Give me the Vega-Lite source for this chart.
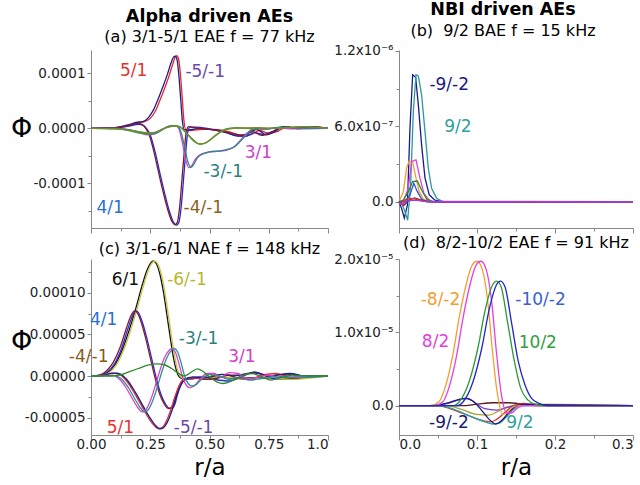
{
"$schema":"https://vega.github.io/schema/vega-lite/v6.json",
"background":"white",
"padding":{"left":10,"top":1,"right":0,"bottom":0},
"config":{
 "font":"DejaVu Sans",
 "view":{"stroke":null},
 "axis":{"labelFont":"DejaVu Sans","labelFontSize":13.5,"labelColor":"#222","domainColor":"#888","tickColor":"#888","grid":false,"titleFont":"DejaVu Sans","titleFontWeight":"normal","titleColor":"#000","labelPadding":2},
 "title":{"font":"DejaVu Sans","fontSize":17.5,"fontWeight":"bold","subtitleFont":"DejaVu Sans","subtitleFontSize":16,"subtitleColor":"#000","anchor":"middle","offset":5,"subtitlePadding":4,"color":"#000"},
 "text":{"font":"DejaVu Sans"}
},
"datasets":{
"A":[
{"s":"5/1","r":0,"phi":0},{"s":"5/1","r":0.1,"phi":0.01e-4},{"s":"5/1","r":0.16,"phi":0.05e-4},{"s":"5/1","r":0.2,"phi":0.1e-4},{"s":"5/1","r":0.225,"phi":0.12e-4},{"s":"5/1","r":0.25,"phi":0.18e-4},{"s":"5/1","r":0.27,"phi":0.3e-4},{"s":"5/1","r":0.29,"phi":0.5e-4},{"s":"5/1","r":0.31,"phi":0.72e-4},{"s":"5/1","r":0.33,"phi":0.96e-4},{"s":"5/1","r":0.345,"phi":1.17e-4},{"s":"5/1","r":0.355,"phi":1.29e-4},{"s":"5/1","r":0.362,"phi":1.32e-4},{"s":"5/1","r":0.369,"phi":1.27e-4},{"s":"5/1","r":0.377,"phi":1.0e-4},{"s":"5/1","r":0.385,"phi":0.55e-4},{"s":"5/1","r":0.392,"phi":0.15e-4},{"s":"5/1","r":0.4,"phi":-0.03e-4},{"s":"5/1","r":0.42,"phi":-0.04e-4},{"s":"5/1","r":0.47,"phi":-0.02e-4},{"s":"5/1","r":0.52,"phi":-0.02e-4},{"s":"5/1","r":0.58,"phi":-0.06e-4},{"s":"5/1","r":0.63,"phi":-0.12e-4},{"s":"5/1","r":0.67,"phi":-0.12e-4},{"s":"5/1","r":0.71,"phi":-0.04e-4},{"s":"5/1","r":0.75,"phi":-0.09e-4},{"s":"5/1","r":0.79,"phi":-0.05e-4},{"s":"5/1","r":0.83,"phi":0.03e-4},{"s":"5/1","r":0.87,"phi":-0.01e-4},{"s":"5/1","r":0.93,"phi":0.02e-4},{"s":"5/1","r":1,"phi":0},
{"s":"-5/-1","r":0,"phi":0},{"s":"-5/-1","r":0.1,"phi":0.01e-4},{"s":"-5/-1","r":0.155,"phi":0.06e-4},{"s":"-5/-1","r":0.195,"phi":0.11e-4},{"s":"-5/-1","r":0.218,"phi":0.12e-4},{"s":"-5/-1","r":0.243,"phi":0.2e-4},{"s":"-5/-1","r":0.263,"phi":0.33e-4},{"s":"-5/-1","r":0.283,"phi":0.53e-4},{"s":"-5/-1","r":0.303,"phi":0.75e-4},{"s":"-5/-1","r":0.323,"phi":0.99e-4},{"s":"-5/-1","r":0.338,"phi":1.19e-4},{"s":"-5/-1","r":0.349,"phi":1.3e-4},{"s":"-5/-1","r":0.356,"phi":1.31e-4},{"s":"-5/-1","r":0.363,"phi":1.25e-4},{"s":"-5/-1","r":0.371,"phi":0.95e-4},{"s":"-5/-1","r":0.379,"phi":0.5e-4},{"s":"-5/-1","r":0.386,"phi":0.12e-4},{"s":"-5/-1","r":0.394,"phi":-0.03e-4},{"s":"-5/-1","r":0.41,"phi":-0.03e-4},{"s":"-5/-1","r":0.46,"phi":0},{"s":"-5/-1","r":0.52,"phi":-0.03e-4},{"s":"-5/-1","r":0.57,"phi":-0.08e-4},{"s":"-5/-1","r":0.62,"phi":-0.14e-4},{"s":"-5/-1","r":0.66,"phi":-0.1e-4},{"s":"-5/-1","r":0.7,"phi":-0.02e-4},{"s":"-5/-1","r":0.74,"phi":-0.12e-4},{"s":"-5/-1","r":0.78,"phi":-0.05e-4},{"s":"-5/-1","r":0.81,"phi":0.03e-4},{"s":"-5/-1","r":0.86,"phi":0},{"s":"-5/-1","r":0.92,"phi":0.03e-4},{"s":"-5/-1","r":1,"phi":0},
{"s":"4/1","r":0,"phi":0},{"s":"4/1","r":0.1,"phi":0.01e-4},{"s":"4/1","r":0.16,"phi":0.04e-4},{"s":"4/1","r":0.2,"phi":0.07e-4},{"s":"4/1","r":0.222,"phi":0.05e-4},{"s":"4/1","r":0.237,"phi":-0.02e-4},{"s":"4/1","r":0.25,"phi":-0.12e-4},{"s":"4/1","r":0.27,"phi":-0.42e-4},{"s":"4/1","r":0.29,"phi":-0.8e-4},{"s":"4/1","r":0.31,"phi":-1.17e-4},{"s":"4/1","r":0.33,"phi":-1.5e-4},{"s":"4/1","r":0.347,"phi":-1.7e-4},{"s":"4/1","r":0.36,"phi":-1.76e-4},{"s":"4/1","r":0.37,"phi":-1.72e-4},{"s":"4/1","r":0.38,"phi":-1.45e-4},{"s":"4/1","r":0.39,"phi":-0.95e-4},{"s":"4/1","r":0.4,"phi":-0.42e-4},{"s":"4/1","r":0.408,"phi":-0.08e-4},{"s":"4/1","r":0.418,"phi":0.02e-4},{"s":"4/1","r":0.44,"phi":0.02e-4},{"s":"4/1","r":0.5,"phi":-0.01e-4},{"s":"4/1","r":0.56,"phi":-0.06e-4},{"s":"4/1","r":0.6,"phi":-0.12e-4},{"s":"4/1","r":0.65,"phi":-0.15e-4},{"s":"4/1","r":0.69,"phi":-0.08e-4},{"s":"4/1","r":0.73,"phi":-0.11e-4},{"s":"4/1","r":0.77,"phi":-0.05e-4},{"s":"4/1","r":0.82,"phi":0.02e-4},{"s":"4/1","r":0.88,"phi":0},{"s":"4/1","r":0.94,"phi":0.02e-4},{"s":"4/1","r":1,"phi":0},
{"s":"-4/-1","r":0,"phi":0},{"s":"-4/-1","r":0.1,"phi":0.01e-4},{"s":"-4/-1","r":0.155,"phi":0.05e-4},{"s":"-4/-1","r":0.195,"phi":0.09e-4},{"s":"-4/-1","r":0.215,"phi":0.07e-4},{"s":"-4/-1","r":0.231,"phi":0},{"s":"-4/-1","r":0.244,"phi":-0.1e-4},{"s":"-4/-1","r":0.264,"phi":-0.4e-4},{"s":"-4/-1","r":0.284,"phi":-0.78e-4},{"s":"-4/-1","r":0.304,"phi":-1.15e-4},{"s":"-4/-1","r":0.324,"phi":-1.48e-4},{"s":"-4/-1","r":0.341,"phi":-1.69e-4},{"s":"-4/-1","r":0.354,"phi":-1.75e-4},{"s":"-4/-1","r":0.364,"phi":-1.71e-4},{"s":"-4/-1","r":0.374,"phi":-1.43e-4},{"s":"-4/-1","r":0.384,"phi":-0.92e-4},{"s":"-4/-1","r":0.394,"phi":-0.4e-4},{"s":"-4/-1","r":0.402,"phi":-0.06e-4},{"s":"-4/-1","r":0.412,"phi":0.03e-4},{"s":"-4/-1","r":0.44,"phi":0.01e-4},{"s":"-4/-1","r":0.5,"phi":-0.02e-4},{"s":"-4/-1","r":0.55,"phi":-0.05e-4},{"s":"-4/-1","r":0.6,"phi":-0.1e-4},{"s":"-4/-1","r":0.64,"phi":-0.13e-4},{"s":"-4/-1","r":0.68,"phi":-0.06e-4},{"s":"-4/-1","r":0.72,"phi":-0.13e-4},{"s":"-4/-1","r":0.76,"phi":-0.08e-4},{"s":"-4/-1","r":0.8,"phi":0.02e-4},{"s":"-4/-1","r":0.86,"phi":0.01e-4},{"s":"-4/-1","r":0.93,"phi":0.03e-4},{"s":"-4/-1","r":1,"phi":0},
{"s":"3/1","r":0,"phi":0},{"s":"3/1","r":0.1,"phi":0},{"s":"3/1","r":0.15,"phi":-0.02e-4},{"s":"3/1","r":0.2,"phi":-0.07e-4},{"s":"3/1","r":0.24,"phi":-0.12e-4},{"s":"3/1","r":0.27,"phi":-0.1e-4},{"s":"3/1","r":0.3,"phi":-0.02e-4},{"s":"3/1","r":0.33,"phi":0.04e-4},{"s":"3/1","r":0.355,"phi":0.05e-4},{"s":"3/1","r":0.37,"phi":0},{"s":"3/1","r":0.385,"phi":-0.25e-4},{"s":"3/1","r":0.4,"phi":-0.58e-4},{"s":"3/1","r":0.413,"phi":-0.72e-4},{"s":"3/1","r":0.425,"phi":-0.68e-4},{"s":"3/1","r":0.44,"phi":-0.56e-4},{"s":"3/1","r":0.46,"phi":-0.48e-4},{"s":"3/1","r":0.49,"phi":-0.44e-4},{"s":"3/1","r":0.53,"phi":-0.42e-4},{"s":"3/1","r":0.57,"phi":-0.4e-4},{"s":"3/1","r":0.6,"phi":-0.35e-4},{"s":"3/1","r":0.63,"phi":-0.22e-4},{"s":"3/1","r":0.66,"phi":-0.08e-4},{"s":"3/1","r":0.69,"phi":0},{"s":"3/1","r":0.73,"phi":-0.02e-4},{"s":"3/1","r":0.78,"phi":0.01e-4},{"s":"3/1","r":0.85,"phi":-0.01e-4},{"s":"3/1","r":1,"phi":0},
{"s":"-3/-1","r":0,"phi":0},{"s":"-3/-1","r":0.1,"phi":0},{"s":"-3/-1","r":0.15,"phi":-0.02e-4},{"s":"-3/-1","r":0.2,"phi":-0.06e-4},{"s":"-3/-1","r":0.25,"phi":-0.11e-4},{"s":"-3/-1","r":0.28,"phi":-0.08e-4},{"s":"-3/-1","r":0.31,"phi":0},{"s":"-3/-1","r":0.34,"phi":0.05e-4},{"s":"-3/-1","r":0.363,"phi":0.04e-4},{"s":"-3/-1","r":0.378,"phi":-0.05e-4},{"s":"-3/-1","r":0.393,"phi":-0.3e-4},{"s":"-3/-1","r":0.408,"phi":-0.6e-4},{"s":"-3/-1","r":0.421,"phi":-0.71e-4},{"s":"-3/-1","r":0.433,"phi":-0.66e-4},{"s":"-3/-1","r":0.448,"phi":-0.54e-4},{"s":"-3/-1","r":0.47,"phi":-0.47e-4},{"s":"-3/-1","r":0.5,"phi":-0.43e-4},{"s":"-3/-1","r":0.54,"phi":-0.41e-4},{"s":"-3/-1","r":0.58,"phi":-0.38e-4},{"s":"-3/-1","r":0.61,"phi":-0.32e-4},{"s":"-3/-1","r":0.64,"phi":-0.19e-4},{"s":"-3/-1","r":0.67,"phi":-0.06e-4},{"s":"-3/-1","r":0.7,"phi":0.01e-4},{"s":"-3/-1","r":0.74,"phi":-0.01e-4},{"s":"-3/-1","r":0.8,"phi":0.02e-4},{"s":"-3/-1","r":0.9,"phi":0},{"s":"-3/-1","r":1,"phi":0},
{"s":"g1","r":0,"phi":0},{"s":"g1","r":0.1,"phi":-0.01e-4},{"s":"g1","r":0.16,"phi":-0.04e-4},{"s":"g1","r":0.21,"phi":-0.09e-4},{"s":"g1","r":0.25,"phi":-0.1e-4},{"s":"g1","r":0.29,"phi":-0.04e-4},{"s":"g1","r":0.33,"phi":0.03e-4},{"s":"g1","r":0.36,"phi":0.05e-4},{"s":"g1","r":0.385,"phi":0},{"s":"g1","r":0.41,"phi":-0.12e-4},{"s":"g1","r":0.435,"phi":-0.24e-4},{"s":"g1","r":0.46,"phi":-0.29e-4},{"s":"g1","r":0.485,"phi":-0.26e-4},{"s":"g1","r":0.51,"phi":-0.18e-4},{"s":"g1","r":0.54,"phi":-0.08e-4},{"s":"g1","r":0.57,"phi":-0.01e-4},{"s":"g1","r":0.62,"phi":0.01e-4},{"s":"g1","r":0.7,"phi":-0.01e-4},{"s":"g1","r":0.8,"phi":0.01e-4},{"s":"g1","r":0.88,"phi":0.03e-4},{"s":"g1","r":0.94,"phi":0.02e-4},{"s":"g1","r":1,"phi":0},
{"s":"g2","r":0,"phi":0},{"s":"g2","r":0.12,"phi":-0.01e-4},{"s":"g2","r":0.2,"phi":-0.06e-4},{"s":"g2","r":0.26,"phi":-0.08e-4},{"s":"g2","r":0.31,"phi":0},{"s":"g2","r":0.35,"phi":0.04e-4},{"s":"g2","r":0.375,"phi":0.02e-4},{"s":"g2","r":0.4,"phi":-0.08e-4},{"s":"g2","r":0.43,"phi":-0.2e-4},{"s":"g2","r":0.455,"phi":-0.28e-4},{"s":"g2","r":0.475,"phi":-0.28e-4},{"s":"g2","r":0.5,"phi":-0.22e-4},{"s":"g2","r":0.53,"phi":-0.12e-4},{"s":"g2","r":0.56,"phi":-0.04e-4},{"s":"g2","r":0.6,"phi":0},{"s":"g2","r":0.7,"phi":0.01e-4},{"s":"g2","r":0.8,"phi":0},{"s":"g2","r":0.9,"phi":0.03e-4},{"s":"g2","r":1,"phi":0}
],
"B":[
{"s":"-9/-2","r":0,"phi":0},{"s":"-9/-2","r":0.0034,"phi":-0.55e-7},{"s":"-9/-2","r":0.0068,"phi":-1.3e-7},{"s":"-9/-2","r":0.0107,"phi":-0.3e-7},{"s":"-9/-2","r":0.0141,"phi":5.9e-7},{"s":"-9/-2","r":0.0175,"phi":10.1e-7},{"s":"-9/-2","r":0.0213,"phi":9.9e-7},{"s":"-9/-2","r":0.0248,"phi":7.7e-7},{"s":"-9/-2","r":0.029,"phi":4.5e-7},{"s":"-9/-2","r":0.0333,"phi":1.9e-7},{"s":"-9/-2","r":0.0388,"phi":0.55e-7},{"s":"-9/-2","r":0.046,"phi":0.12e-7},{"s":"-9/-2","r":0.057,"phi":0},{"s":"-9/-2","r":0.3,"phi":0},
{"s":"9/2","r":0,"phi":0},{"s":"9/2","r":0.0043,"phi":-0.27e-7},{"s":"9/2","r":0.0077,"phi":-0.8e-7},{"s":"9/2","r":0.0111,"phi":-1.47e-7},{"s":"9/2","r":0.0149,"phi":1.3e-7},{"s":"9/2","r":0.0184,"phi":7.2e-7},{"s":"9/2","r":0.0218,"phi":10.1e-7},{"s":"9/2","r":0.0248,"phi":10.0e-7},{"s":"9/2","r":0.029,"phi":8.5e-7},{"s":"9/2","r":0.0333,"phi":5.6e-7},{"s":"9/2","r":0.0375,"phi":2.7e-7},{"s":"9/2","r":0.0418,"phi":1.07e-7},{"s":"9/2","r":0.0482,"phi":0.27e-7},{"s":"9/2","r":0.0568,"phi":0},{"s":"9/2","r":0.3,"phi":0},
{"s":"or","r":0,"phi":0},{"s":"or","r":0.0056,"phi":0.8e-7},{"s":"or","r":0.0098,"phi":2.7e-7},{"s":"or","r":0.0132,"phi":3.25e-7},{"s":"or","r":0.0175,"phi":3.15e-7},{"s":"or","r":0.0218,"phi":1.87e-7},{"s":"or","r":0.026,"phi":0.8e-7},{"s":"or","r":0.0311,"phi":0.21e-7},{"s":"or","r":0.0397,"phi":0},{"s":"or","r":0.3,"phi":0},
{"s":"mg","r":0,"phi":0},{"s":"mg","r":0.0055,"phi":0},{"s":"mg","r":0.0119,"phi":1.07e-7},{"s":"mg","r":0.0162,"phi":3.2e-7},{"s":"mg","r":0.0218,"phi":3.33e-7},{"s":"mg","r":0.0269,"phi":1.87e-7},{"s":"mg","r":0.032,"phi":0.67e-7},{"s":"mg","r":0.0397,"phi":0.05e-7},{"s":"mg","r":0.3,"phi":0},
{"s":"gr","r":0,"phi":0},{"s":"gr","r":0.0055,"phi":0.13e-7},{"s":"gr","r":0.0119,"phi":0.8e-7},{"s":"gr","r":0.0175,"phi":1.6e-7},{"s":"gr","r":0.0235,"phi":1.65e-7},{"s":"gr","r":0.029,"phi":0.93e-7},{"s":"gr","r":0.0354,"phi":0.21e-7},{"s":"gr","r":0.044,"phi":0},{"s":"gr","r":0.3,"phi":0},
{"s":"bl","r":0,"phi":0},{"s":"bl","r":0.0077,"phi":0},{"s":"bl","r":0.014,"phi":0.53e-7},{"s":"bl","r":0.019,"phi":1.47e-7},{"s":"bl","r":0.0235,"phi":0.8e-7},{"s":"bl","r":0.029,"phi":0.21e-7},{"s":"bl","r":0.0354,"phi":0},{"s":"bl","r":0.3,"phi":0},
{"s":"br","r":0,"phi":0},{"s":"br","r":0.006,"phi":-0.3e-7},{"s":"br","r":0.012,"phi":0.1e-7},{"s":"br","r":0.02,"phi":0.3e-7},{"s":"br","r":0.03,"phi":0.1e-7},{"s":"br","r":0.04,"phi":0},{"s":"br","r":0.3,"phi":0},
{"s":"rd","r":0,"phi":-0.1e-7},{"s":"rd","r":0.0013,"phi":-0.13e-7},{"s":"rd","r":0.0098,"phi":0.21e-7},{"s":"rd","r":0.016,"phi":0.27e-7},{"s":"rd","r":0.0226,"phi":0.19e-7},{"s":"rd","r":0.031,"phi":0.05e-7},{"s":"rd","r":0.04,"phi":0},{"s":"rd","r":0.3,"phi":0},
{"s":"vi","r":0,"phi":-0.15e-7},{"s":"vi","r":0.004,"phi":-0.2e-7},{"s":"vi","r":0.01,"phi":0.05e-7},{"s":"vi","r":0.02,"phi":0.12e-7},{"s":"vi","r":0.03,"phi":0.05e-7},{"s":"vi","r":0.04,"phi":0},{"s":"vi","r":0.3,"phi":0}
],
"C":[
{"s":"6/1","r":0,"phi":0},{"s":"6/1","r":0.04,"phi":0.05e-5},{"s":"6/1","r":0.07,"phi":0.4e-5},{"s":"6/1","r":0.1,"phi":1.3e-5},{"s":"6/1","r":0.13,"phi":3.0e-5},{"s":"6/1","r":0.16,"phi":5.4e-5},{"s":"6/1","r":0.19,"phi":8.2e-5},{"s":"6/1","r":0.215,"phi":10.8e-5},{"s":"6/1","r":0.235,"phi":12.6e-5},{"s":"6/1","r":0.25,"phi":13.5e-5},{"s":"6/1","r":0.262,"phi":13.8e-5},{"s":"6/1","r":0.275,"phi":13.5e-5},{"s":"6/1","r":0.29,"phi":12.3e-5},{"s":"6/1","r":0.305,"phi":10.2e-5},{"s":"6/1","r":0.32,"phi":7.4e-5},{"s":"6/1","r":0.335,"phi":4.5e-5},{"s":"6/1","r":0.348,"phi":2.2e-5},{"s":"6/1","r":0.36,"phi":0.7e-5},{"s":"6/1","r":0.372,"phi":-0.1e-5},{"s":"6/1","r":0.39,"phi":-0.35e-5},{"s":"6/1","r":0.42,"phi":-0.35e-5},{"s":"6/1","r":0.47,"phi":-0.2e-5},{"s":"6/1","r":0.52,"phi":-0.1e-5},{"s":"6/1","r":0.6,"phi":-0.25e-5},{"s":"6/1","r":0.7,"phi":-0.2e-5},{"s":"6/1","r":0.8,"phi":-0.35e-5},{"s":"6/1","r":0.88,"phi":-0.3e-5},{"s":"6/1","r":0.94,"phi":-0.1e-5},{"s":"6/1","r":1,"phi":0},
{"s":"-6/-1","r":0,"phi":0},{"s":"-6/-1","r":0.045,"phi":0.05e-5},{"s":"-6/-1","r":0.076,"phi":0.4e-5},{"s":"-6/-1","r":0.106,"phi":1.3e-5},{"s":"-6/-1","r":0.136,"phi":3.0e-5},{"s":"-6/-1","r":0.166,"phi":5.4e-5},{"s":"-6/-1","r":0.196,"phi":8.2e-5},{"s":"-6/-1","r":0.221,"phi":10.8e-5},{"s":"-6/-1","r":0.241,"phi":12.6e-5},{"s":"-6/-1","r":0.256,"phi":13.5e-5},{"s":"-6/-1","r":0.268,"phi":13.8e-5},{"s":"-6/-1","r":0.281,"phi":13.5e-5},{"s":"-6/-1","r":0.296,"phi":12.3e-5},{"s":"-6/-1","r":0.311,"phi":10.2e-5},{"s":"-6/-1","r":0.326,"phi":7.4e-5},{"s":"-6/-1","r":0.341,"phi":4.5e-5},{"s":"-6/-1","r":0.354,"phi":2.2e-5},{"s":"-6/-1","r":0.366,"phi":0.7e-5},{"s":"-6/-1","r":0.378,"phi":-0.1e-5},{"s":"-6/-1","r":0.396,"phi":-0.35e-5},{"s":"-6/-1","r":0.43,"phi":-0.3e-5},{"s":"-6/-1","r":0.48,"phi":-0.15e-5},{"s":"-6/-1","r":0.55,"phi":-0.1e-5},{"s":"-6/-1","r":0.65,"phi":-0.3e-5},{"s":"-6/-1","r":0.75,"phi":-0.25e-5},{"s":"-6/-1","r":0.85,"phi":-0.4e-5},{"s":"-6/-1","r":0.92,"phi":-0.25e-5},{"s":"-6/-1","r":1,"phi":0},
{"s":"4/1","r":0,"phi":0},{"s":"4/1","r":0.04,"phi":0.1e-5},{"s":"4/1","r":0.07,"phi":0.5e-5},{"s":"4/1","r":0.1,"phi":1.5e-5},{"s":"4/1","r":0.13,"phi":3.4e-5},{"s":"4/1","r":0.155,"phi":5.6e-5},{"s":"4/1","r":0.175,"phi":7.2e-5},{"s":"4/1","r":0.19,"phi":7.8e-5},{"s":"4/1","r":0.2,"phi":7.6e-5},{"s":"4/1","r":0.215,"phi":6.6e-5},{"s":"4/1","r":0.235,"phi":4.6e-5},{"s":"4/1","r":0.255,"phi":2.2e-5},{"s":"4/1","r":0.275,"phi":-0.2e-5},{"s":"4/1","r":0.295,"phi":-2.2e-5},{"s":"4/1","r":0.315,"phi":-3.4e-5},{"s":"4/1","r":0.332,"phi":-3.9e-5},{"s":"4/1","r":0.345,"phi":-3.8e-5},{"s":"4/1","r":0.355,"phi":-3.3e-5},{"s":"4/1","r":0.365,"phi":-2.2e-5},{"s":"4/1","r":0.38,"phi":-1.0e-5},{"s":"4/1","r":0.4,"phi":-0.4e-5},{"s":"4/1","r":0.43,"phi":-0.3e-5},{"s":"4/1","r":0.47,"phi":-0.1e-5},{"s":"4/1","r":0.52,"phi":-0.4e-5},{"s":"4/1","r":0.58,"phi":-0.6e-5},{"s":"4/1","r":0.63,"phi":-0.2e-5},{"s":"4/1","r":0.68,"phi":0.4e-5},{"s":"4/1","r":0.72,"phi":0.2e-5},{"s":"4/1","r":0.77,"phi":-0.3e-5},{"s":"4/1","r":0.82,"phi":0.1e-5},{"s":"4/1","r":0.86,"phi":0.2e-5},{"s":"4/1","r":0.9,"phi":-0.1e-5},{"s":"4/1","r":1,"phi":0},
{"s":"-4/-1","r":0,"phi":0},{"s":"-4/-1","r":0.035,"phi":0.1e-5},{"s":"-4/-1","r":0.065,"phi":0.6e-5},{"s":"-4/-1","r":0.095,"phi":1.7e-5},{"s":"-4/-1","r":0.125,"phi":3.6e-5},{"s":"-4/-1","r":0.15,"phi":5.8e-5},{"s":"-4/-1","r":0.17,"phi":7.3e-5},{"s":"-4/-1","r":0.184,"phi":7.8e-5},{"s":"-4/-1","r":0.195,"phi":7.6e-5},{"s":"-4/-1","r":0.21,"phi":6.6e-5},{"s":"-4/-1","r":0.23,"phi":4.6e-5},{"s":"-4/-1","r":0.25,"phi":2.2e-5},{"s":"-4/-1","r":0.27,"phi":-0.2e-5},{"s":"-4/-1","r":0.29,"phi":-2.2e-5},{"s":"-4/-1","r":0.31,"phi":-3.4e-5},{"s":"-4/-1","r":0.326,"phi":-3.9e-5},{"s":"-4/-1","r":0.339,"phi":-3.8e-5},{"s":"-4/-1","r":0.35,"phi":-3.3e-5},{"s":"-4/-1","r":0.36,"phi":-2.2e-5},{"s":"-4/-1","r":0.375,"phi":-1.0e-5},{"s":"-4/-1","r":0.395,"phi":-0.4e-5},{"s":"-4/-1","r":0.43,"phi":-0.2e-5},{"s":"-4/-1","r":0.48,"phi":-0.4e-5},{"s":"-4/-1","r":0.53,"phi":-0.3e-5},{"s":"-4/-1","r":0.58,"phi":0.1e-5},{"s":"-4/-1","r":0.64,"phi":0.1e-5},{"s":"-4/-1","r":0.69,"phi":0.5e-5},{"s":"-4/-1","r":0.74,"phi":0},{"s":"-4/-1","r":0.79,"phi":0.1e-5},{"s":"-4/-1","r":0.83,"phi":0.25e-5},{"s":"-4/-1","r":0.88,"phi":0},{"s":"-4/-1","r":1,"phi":0},
{"s":"5/1","r":0,"phi":0},{"s":"5/1","r":0.05,"phi":0.1e-5},{"s":"5/1","r":0.09,"phi":0.35e-5},{"s":"5/1","r":0.11,"phi":0.3e-5},{"s":"5/1","r":0.13,"phi":0},{"s":"5/1","r":0.15,"phi":-0.6e-5},{"s":"5/1","r":0.18,"phi":-1.9e-5},{"s":"5/1","r":0.21,"phi":-3.4e-5},{"s":"5/1","r":0.24,"phi":-4.9e-5},{"s":"5/1","r":0.265,"phi":-5.9e-5},{"s":"5/1","r":0.285,"phi":-6.3e-5},{"s":"5/1","r":0.3,"phi":-6.2e-5},{"s":"5/1","r":0.315,"phi":-5.6e-5},{"s":"5/1","r":0.335,"phi":-4.2e-5},{"s":"5/1","r":0.355,"phi":-2.4e-5},{"s":"5/1","r":0.375,"phi":-1.0e-5},{"s":"5/1","r":0.39,"phi":-0.4e-5},{"s":"5/1","r":0.42,"phi":-0.2e-5},{"s":"5/1","r":0.47,"phi":-0.3e-5},{"s":"5/1","r":0.52,"phi":0.1e-5},{"s":"5/1","r":0.57,"phi":0.2e-5},{"s":"5/1","r":0.62,"phi":-0.3e-5},{"s":"5/1","r":0.67,"phi":-0.4e-5},{"s":"5/1","r":0.72,"phi":0.1e-5},{"s":"5/1","r":0.78,"phi":0.3e-5},{"s":"5/1","r":0.83,"phi":-0.1e-5},{"s":"5/1","r":0.88,"phi":-0.2e-5},{"s":"5/1","r":0.94,"phi":0},{"s":"5/1","r":1,"phi":0},
{"s":"-5/-1","r":0,"phi":0},{"s":"-5/-1","r":0.055,"phi":0.1e-5},{"s":"-5/-1","r":0.095,"phi":0.35e-5},{"s":"-5/-1","r":0.116,"phi":0.3e-5},{"s":"-5/-1","r":0.136,"phi":0},{"s":"-5/-1","r":0.156,"phi":-0.6e-5},{"s":"-5/-1","r":0.186,"phi":-1.9e-5},{"s":"-5/-1","r":0.216,"phi":-3.4e-5},{"s":"-5/-1","r":0.246,"phi":-4.9e-5},{"s":"-5/-1","r":0.271,"phi":-5.9e-5},{"s":"-5/-1","r":0.291,"phi":-6.35e-5},{"s":"-5/-1","r":0.306,"phi":-6.2e-5},{"s":"-5/-1","r":0.321,"phi":-5.6e-5},{"s":"-5/-1","r":0.341,"phi":-4.2e-5},{"s":"-5/-1","r":0.361,"phi":-2.4e-5},{"s":"-5/-1","r":0.381,"phi":-1.0e-5},{"s":"-5/-1","r":0.396,"phi":-0.4e-5},{"s":"-5/-1","r":0.43,"phi":-0.1e-5},{"s":"-5/-1","r":0.49,"phi":-0.2e-5},{"s":"-5/-1","r":0.55,"phi":0.2e-5},{"s":"-5/-1","r":0.6,"phi":0},{"s":"-5/-1","r":0.66,"phi":0.3e-5},{"s":"-5/-1","r":0.7,"phi":0.4e-5},{"s":"-5/-1","r":0.75,"phi":0},{"s":"-5/-1","r":0.8,"phi":0.2e-5},{"s":"-5/-1","r":0.84,"phi":0.3e-5},{"s":"-5/-1","r":0.9,"phi":0},{"s":"-5/-1","r":1,"phi":0},
{"s":"3/1","r":0,"phi":0},{"s":"3/1","r":0.05,"phi":0.05e-5},{"s":"3/1","r":0.09,"phi":0.1e-5},{"s":"3/1","r":0.12,"phi":-0.4e-5},{"s":"3/1","r":0.15,"phi":-1.5e-5},{"s":"3/1","r":0.18,"phi":-3.0e-5},{"s":"3/1","r":0.2,"phi":-3.9e-5},{"s":"3/1","r":0.215,"phi":-4.3e-5},{"s":"3/1","r":0.23,"phi":-4.1e-5},{"s":"3/1","r":0.25,"phi":-3.0e-5},{"s":"3/1","r":0.27,"phi":-1.3e-5},{"s":"3/1","r":0.29,"phi":0.6e-5},{"s":"3/1","r":0.31,"phi":2.2e-5},{"s":"3/1","r":0.33,"phi":3.1e-5},{"s":"3/1","r":0.342,"phi":3.3e-5},{"s":"3/1","r":0.355,"phi":2.9e-5},{"s":"3/1","r":0.37,"phi":1.6e-5},{"s":"3/1","r":0.385,"phi":0},{"s":"3/1","r":0.4,"phi":-1.0e-5},{"s":"3/1","r":0.415,"phi":-1.4e-5},{"s":"3/1","r":0.435,"phi":-1.2e-5},{"s":"3/1","r":0.46,"phi":-0.4e-5},{"s":"3/1","r":0.49,"phi":0.3e-5},{"s":"3/1","r":0.52,"phi":0.3e-5},{"s":"3/1","r":0.55,"phi":-0.2e-5},{"s":"3/1","r":0.58,"phi":0.4e-5},{"s":"3/1","r":0.62,"phi":0.3e-5},{"s":"3/1","r":0.66,"phi":-0.3e-5},{"s":"3/1","r":0.7,"phi":-0.2e-5},{"s":"3/1","r":0.75,"phi":0.1e-5},{"s":"3/1","r":0.8,"phi":-0.2e-5},{"s":"3/1","r":0.85,"phi":-0.1e-5},{"s":"3/1","r":1,"phi":0},
{"s":"-3/-1","r":0,"phi":0},{"s":"-3/-1","r":0.06,"phi":0.05e-5},{"s":"-3/-1","r":0.1,"phi":0.05e-5},{"s":"-3/-1","r":0.13,"phi":-0.4e-5},{"s":"-3/-1","r":0.16,"phi":-1.5e-5},{"s":"-3/-1","r":0.19,"phi":-3.0e-5},{"s":"-3/-1","r":0.21,"phi":-3.9e-5},{"s":"-3/-1","r":0.225,"phi":-4.3e-5},{"s":"-3/-1","r":0.24,"phi":-4.1e-5},{"s":"-3/-1","r":0.26,"phi":-3.0e-5},{"s":"-3/-1","r":0.28,"phi":-1.3e-5},{"s":"-3/-1","r":0.3,"phi":0.6e-5},{"s":"-3/-1","r":0.32,"phi":2.2e-5},{"s":"-3/-1","r":0.34,"phi":3.1e-5},{"s":"-3/-1","r":0.352,"phi":3.3e-5},{"s":"-3/-1","r":0.365,"phi":2.9e-5},{"s":"-3/-1","r":0.38,"phi":1.6e-5},{"s":"-3/-1","r":0.395,"phi":0},{"s":"-3/-1","r":0.41,"phi":-0.9e-5},{"s":"-3/-1","r":0.425,"phi":-1.2e-5},{"s":"-3/-1","r":0.445,"phi":-1.0e-5},{"s":"-3/-1","r":0.47,"phi":-0.3e-5},{"s":"-3/-1","r":0.5,"phi":0.2e-5},{"s":"-3/-1","r":0.54,"phi":0},{"s":"-3/-1","r":0.58,"phi":-0.4e-5},{"s":"-3/-1","r":0.62,"phi":-0.2e-5},{"s":"-3/-1","r":0.67,"phi":-0.5e-5},{"s":"-3/-1","r":0.72,"phi":-0.3e-5},{"s":"-3/-1","r":0.78,"phi":-0.1e-5},{"s":"-3/-1","r":0.85,"phi":-0.2e-5},{"s":"-3/-1","r":1,"phi":0},
{"s":"g1","r":0,"phi":0},{"s":"g1","r":0.08,"phi":0},{"s":"g1","r":0.12,"phi":0.1e-5},{"s":"g1","r":0.16,"phi":0.5e-5},{"s":"g1","r":0.2,"phi":0.9e-5},{"s":"g1","r":0.24,"phi":1.3e-5},{"s":"g1","r":0.28,"phi":1.45e-5},{"s":"g1","r":0.31,"phi":1.35e-5},{"s":"g1","r":0.34,"phi":0.9e-5},{"s":"g1","r":0.37,"phi":0.3e-5},{"s":"g1","r":0.39,"phi":0},{"s":"g1","r":0.41,"phi":0.2e-5},{"s":"g1","r":0.43,"phi":0.6e-5},{"s":"g1","r":0.45,"phi":0.85e-5},{"s":"g1","r":0.47,"phi":0.6e-5},{"s":"g1","r":0.5,"phi":-0.1e-5},{"s":"g1","r":0.53,"phi":-0.7e-5},{"s":"g1","r":0.56,"phi":-0.9e-5},{"s":"g1","r":0.6,"phi":-0.5e-5},{"s":"g1","r":0.64,"phi":0.1e-5},{"s":"g1","r":0.68,"phi":0.3e-5},{"s":"g1","r":0.72,"phi":-0.1e-5},{"s":"g1","r":0.76,"phi":-0.5e-5},{"s":"g1","r":0.8,"phi":-0.2e-5},{"s":"g1","r":0.85,"phi":0.1e-5},{"s":"g1","r":0.92,"phi":0},{"s":"g1","r":1,"phi":0}
],
"D":[
{"s":"br","r":0,"phi":0},{"s":"br","r":0.08,"phi":0},{"s":"br","r":0.1,"phi":0.02e-5},{"s":"br","r":0.12,"phi":0.04e-5},{"s":"br","r":0.14,"phi":0.04e-5},{"s":"br","r":0.16,"phi":0.02e-5},{"s":"br","r":0.18,"phi":0},{"s":"br","r":0.3,"phi":0},
{"s":"ol","r":0,"phi":0},{"s":"ol","r":0.06,"phi":0},{"s":"ol","r":0.08,"phi":-0.05e-5},{"s":"ol","r":0.1,"phi":-0.12e-5},{"s":"ol","r":0.115,"phi":-0.13e-5},{"s":"ol","r":0.13,"phi":-0.06e-5},{"s":"ol","r":0.145,"phi":0},{"s":"ol","r":0.165,"phi":0.02e-5},{"s":"ol","r":0.3,"phi":0},
{"s":"rd","r":0,"phi":0},{"s":"rd","r":0.05,"phi":0},{"s":"rd","r":0.065,"phi":-0.04e-5},{"s":"rd","r":0.08,"phi":-0.1e-5},{"s":"rd","r":0.095,"phi":-0.16e-5},{"s":"rd","r":0.11,"phi":-0.21e-5},{"s":"rd","r":0.118,"phi":-0.22e-5},{"s":"rd","r":0.126,"phi":-0.18e-5},{"s":"rd","r":0.136,"phi":-0.09e-5},{"s":"rd","r":0.145,"phi":-0.01e-5},{"s":"rd","r":0.16,"phi":0.03e-5},{"s":"rd","r":0.175,"phi":0.01e-5},{"s":"rd","r":0.3,"phi":0},
{"s":"9/2","r":0,"phi":0},{"s":"9/2","r":0.05,"phi":0},{"s":"9/2","r":0.065,"phi":-0.03e-5},{"s":"9/2","r":0.08,"phi":-0.09e-5},{"s":"9/2","r":0.095,"phi":-0.16e-5},{"s":"9/2","r":0.11,"phi":-0.22e-5},{"s":"9/2","r":0.12,"phi":-0.25e-5},{"s":"9/2","r":0.128,"phi":-0.24e-5},{"s":"9/2","r":0.137,"phi":-0.16e-5},{"s":"9/2","r":0.146,"phi":-0.06e-5},{"s":"9/2","r":0.155,"phi":0.01e-5},{"s":"9/2","r":0.17,"phi":0.02e-5},{"s":"9/2","r":0.19,"phi":0},{"s":"9/2","r":0.3,"phi":0},
{"s":"pu","r":0,"phi":0},{"s":"pu","r":0.045,"phi":0},{"s":"pu","r":0.065,"phi":0.04e-5},{"s":"pu","r":0.08,"phi":0.09e-5},{"s":"pu","r":0.088,"phi":0.1e-5},{"s":"pu","r":0.1,"phi":0.02e-5},{"s":"pu","r":0.11,"phi":-0.04e-5},{"s":"pu","r":0.125,"phi":-0.06e-5},{"s":"pu","r":0.14,"phi":-0.02e-5},{"s":"pu","r":0.155,"phi":0},{"s":"pu","r":0.3,"phi":0},
{"s":"-9/-2","r":0,"phi":0},{"s":"-9/-2","r":0.04,"phi":0},{"s":"-9/-2","r":0.06,"phi":0.03e-5},{"s":"-9/-2","r":0.075,"phi":0.08e-5},{"s":"-9/-2","r":0.085,"phi":0.1e-5},{"s":"-9/-2","r":0.095,"phi":0.06e-5},{"s":"-9/-2","r":0.105,"phi":-0.05e-5},{"s":"-9/-2","r":0.115,"phi":-0.18e-5},{"s":"-9/-2","r":0.124,"phi":-0.25e-5},{"s":"-9/-2","r":0.132,"phi":-0.2e-5},{"s":"-9/-2","r":0.14,"phi":-0.1e-5},{"s":"-9/-2","r":0.148,"phi":-0.02e-5},{"s":"-9/-2","r":0.16,"phi":0.02e-5},{"s":"-9/-2","r":0.18,"phi":0.01e-5},{"s":"-9/-2","r":0.3,"phi":0},
{"s":"-8/-2","r":0,"phi":0},{"s":"-8/-2","r":0.04,"phi":0},{"s":"-8/-2","r":0.051,"phi":0.05e-5},{"s":"-8/-2","r":0.06,"phi":0.28e-5},{"s":"-8/-2","r":0.069,"phi":0.69e-5},{"s":"-8/-2","r":0.077,"phi":1.19e-5},{"s":"-8/-2","r":0.086,"phi":1.65e-5},{"s":"-8/-2","r":0.094,"phi":1.92e-5},{"s":"-8/-2","r":0.1,"phi":1.97e-5},{"s":"-8/-2","r":0.107,"phi":1.85e-5},{"s":"-8/-2","r":0.114,"phi":1.4e-5},{"s":"-8/-2","r":0.12,"phi":0.72e-5},{"s":"-8/-2","r":0.126,"phi":0.17e-5},{"s":"-8/-2","r":0.133,"phi":-0.12e-5},{"s":"-8/-2","r":0.139,"phi":-0.09e-5},{"s":"-8/-2","r":0.146,"phi":-0.02e-5},{"s":"-8/-2","r":0.155,"phi":0},{"s":"-8/-2","r":0.3,"phi":0},
{"s":"8/2","r":0,"phi":0},{"s":"8/2","r":0.045,"phi":0},{"s":"8/2","r":0.056,"phi":0.05e-5},{"s":"8/2","r":0.065,"phi":0.28e-5},{"s":"8/2","r":0.074,"phi":0.69e-5},{"s":"8/2","r":0.082,"phi":1.19e-5},{"s":"8/2","r":0.091,"phi":1.65e-5},{"s":"8/2","r":0.099,"phi":1.92e-5},{"s":"8/2","r":0.105,"phi":1.97e-5},{"s":"8/2","r":0.112,"phi":1.85e-5},{"s":"8/2","r":0.119,"phi":1.4e-5},{"s":"8/2","r":0.125,"phi":0.72e-5},{"s":"8/2","r":0.131,"phi":0.17e-5},{"s":"8/2","r":0.138,"phi":-0.1e-5},{"s":"8/2","r":0.144,"phi":-0.1e-5},{"s":"8/2","r":0.152,"phi":-0.03e-5},{"s":"8/2","r":0.16,"phi":0},{"s":"8/2","r":0.3,"phi":0},
{"s":"10/2","r":0,"phi":0},{"s":"10/2","r":0.07,"phi":0},{"s":"10/2","r":0.077,"phi":0.05e-5},{"s":"10/2","r":0.09,"phi":0.33e-5},{"s":"10/2","r":0.101,"phi":0.78e-5},{"s":"10/2","r":0.111,"phi":1.33e-5},{"s":"10/2","r":0.12,"phi":1.65e-5},{"s":"10/2","r":0.125,"phi":1.7e-5},{"s":"10/2","r":0.131,"phi":1.62e-5},{"s":"10/2","r":0.139,"phi":1.15e-5},{"s":"10/2","r":0.148,"phi":0.6e-5},{"s":"10/2","r":0.156,"phi":0.24e-5},{"s":"10/2","r":0.165,"phi":0.08e-5},{"s":"10/2","r":0.175,"phi":0.02e-5},{"s":"10/2","r":0.185,"phi":0},{"s":"10/2","r":0.3,"phi":0},
{"s":"-10/-2","r":0,"phi":0},{"s":"-10/-2","r":0.075,"phi":0},{"s":"-10/-2","r":0.082,"phi":0.05e-5},{"s":"-10/-2","r":0.095,"phi":0.33e-5},{"s":"-10/-2","r":0.106,"phi":0.78e-5},{"s":"-10/-2","r":0.116,"phi":1.33e-5},{"s":"-10/-2","r":0.125,"phi":1.65e-5},{"s":"-10/-2","r":0.13,"phi":1.7e-5},{"s":"-10/-2","r":0.136,"phi":1.62e-5},{"s":"-10/-2","r":0.144,"phi":1.15e-5},{"s":"-10/-2","r":0.153,"phi":0.6e-5},{"s":"-10/-2","r":0.161,"phi":0.3e-5},{"s":"-10/-2","r":0.17,"phi":0.1e-5},{"s":"-10/-2","r":0.18,"phi":0.03e-5},{"s":"-10/-2","r":0.19,"phi":0},{"s":"-10/-2","r":0.3,"phi":0}
],
"LA":[{"t":"5/1","r":0.18,"phi":1.05e-4},{"t":"-5/-1","r":0.482,"phi":1.02e-4},{"t":"3/1","r":0.706,"phi":-0.45e-4},{"t":"-3/-1","r":0.558,"phi":-0.79e-4},{"t":"4/1","r":0.081,"phi":-1.45e-4},{"t":"-4/-1","r":0.474,"phi":-1.45e-4}],
"LB":[{"t":"-9/-2","r":0.0644,"phi":9.29e-7},{"t":"9/2","r":0.0756,"phi":5.97e-7}],
"LC":[{"t":"6/1","r":0.145,"phi":11.52e-5},{"t":"-6/-1","r":0.405,"phi":11.52e-5},{"t":"4/1","r":0.053,"phi":6.72e-5},{"t":"-4/-1","r":-0.01,"phi":2.32e-5},{"t":"-3/-1","r":0.454,"phi":4.4e-5},{"t":"3/1","r":0.637,"phi":2.24e-5},{"t":"5/1","r":0.124,"phi":-6.28e-5},{"t":"-5/-1","r":0.433,"phi":-6.28e-5}],
"LD":[{"t":"-8/-2","r":0.0532,"phi":1.438e-5},{"t":"-10/-2","r":0.1814,"phi":1.438e-5},{"t":"8/2","r":0.0468,"phi":0.873e-5},{"t":"10/2","r":0.178,"phi":0.85e-5},{"t":"-9/-2","r":0.064,"phi":-0.232e-5},{"t":"9/2","r":0.155,"phi":-0.232e-5}]
},
"columns":2,
"bounds":"flush",
"spacing":{"row":31,"column":71},
"concat":[
{
 "width":237,"height":178,
 "title":{"text":"Alpha driven AEs","subtitle":"(a) 3/1-5/1 EAE f = 77 kHz"},
 "layer":[
  {"data":{"name":"A"},"mark":{"type":"line","strokeWidth":1.3,"interpolate":"monotone"},
   "encoding":{
    "x":{"field":"r","type":"quantitative","scale":{"domain":[0,1],"nice":false,"zero":false},"axis":{"orient":"bottom","values":[0,0.25,0.5,0.75,1],"labels":false,"tickSize":5,"title":null}},
    "y":{"field":"phi","type":"quantitative","scale":{"domain":[-1.8127e-4,1.4236e-4],"nice":false,"zero":false},"axis":{"orient":"left","values":[-0.0001,0,0.0001],"labelExpr":"replace(format(datum.value,'.4f'),'−','-')","tickSize":4,"title":"Φ","titleAngle":0,"titleFontSize":27,"titleX":-70,"titleY":78,"titleAlign":"center","titleBaseline":"middle"}},
    "color":{"field":"s","type":"nominal","scale":{"domain":["g2","g1","-3/-1","3/1","-4/-1","4/1","-5/-1","5/1"],"range":["#7a8a30","#3a9a3a","#2a8888","#e03ed0","#7a1c2c","#2626d8","#1c1c90","#e8262a"]},"legend":null}
   }},
  {"data":{"name":"A"},"mark":{"type":"line","opacity":0},
   "encoding":{
    "x":{"field":"r","type":"quantitative","scale":{"domain":[0,1],"nice":false,"zero":false},"axis":{"orient":"bottom","values":[0.125,0.375,0.625,0.875],"labels":false,"domain":false,"tickSize":3,"title":null}},
    "y":{"field":"phi","type":"quantitative","scale":{"domain":[-1.8127e-4,1.4236e-4],"nice":false,"zero":false},"axis":{"orient":"left","values":[-0.00015,-0.00005,0.00005],"labels":false,"domain":false,"tickSize":3,"title":null}},
    "detail":{"field":"s"}
   }},
  {"data":{"name":"LA"},"mark":{"type":"text","fontSize":17},
   "encoding":{
    "x":{"field":"r","type":"quantitative","scale":{"domain":[0,1],"nice":false,"zero":false},"axis":null},
    "y":{"field":"phi","type":"quantitative","scale":{"domain":[-1.8127e-4,1.4236e-4],"nice":false,"zero":false},"axis":null},
    "text":{"field":"t"},
    "color":{"field":"t","type":"nominal","scale":{"domain":["5/1","-5/-1","4/1","-4/-1","3/1","-3/-1"],"range":["#e8302e","#6a4aa8","#2a70d0","#8a6020","#d040c8","#2a8080"]},"legend":null}
   }}
 ],
 "resolve":{"axis":{"x":"independent","y":"independent"},"scale":{"color":"independent"}}
},
{
 "width":234,"height":178,
 "title":{"text":"NBI driven AEs","subtitle":"(b)\u00a0 9/2 BAE f = 15 kHz","dx":-13},
 "layer":[
  {"data":{"name":"B"},"mark":{"type":"line","strokeWidth":1.3},
   "encoding":{
    "x":{"field":"r","type":"quantitative","scale":{"domain":[0,0.3],"nice":false,"zero":false},"axis":{"orient":"bottom","values":[0,0.1,0.2,0.3],"labels":false,"tickSize":5,"title":null}},
    "y":{"field":"phi","type":"quantitative","scale":{"domain":[-2.09e-7,1.207e-6],"nice":false,"zero":false},"axis":{"orient":"left","values":[0,6e-7,1.2e-6],"labelExpr":"datum.value==0?'0.0':(datum.value>1e-6?'1.2x10⁻⁶':'6.0x10⁻⁷')","tickSize":4,"title":null}},
    "color":{"field":"s","type":"nominal","scale":{"domain":["br","rd","bl","gr","mg","or","9/2","-9/-2","vi"],"range":["#7a2a2a","#e03030","#3050e0","#2a8a2a","#e040e0","#f0a030","#2a9a9a","#1a1a90","#9a40e8"]},"legend":null}
   }},
  {"data":{"name":"B"},"mark":{"type":"line","opacity":0},
   "encoding":{
    "x":{"field":"r","type":"quantitative","scale":{"domain":[0,0.3],"nice":false,"zero":false},"axis":{"orient":"bottom","values":[0.05,0.15,0.25],"labels":false,"domain":false,"tickSize":3,"title":null}},
    "y":{"field":"phi","type":"quantitative","scale":{"domain":[-2.09e-7,1.207e-6],"nice":false,"zero":false},"axis":{"orient":"left","values":[3e-7,9e-7],"labels":false,"domain":false,"tickSize":3,"title":null}},
    "detail":{"field":"s"}
   }},
  {"data":{"name":"LB"},"mark":{"type":"text","fontSize":17},
   "encoding":{
    "x":{"field":"r","type":"quantitative","scale":{"domain":[0,0.3],"nice":false,"zero":false},"axis":null},
    "y":{"field":"phi","type":"quantitative","scale":{"domain":[-2.09e-7,1.207e-6],"nice":false,"zero":false},"axis":null},
    "text":{"field":"t"},
    "color":{"field":"t","type":"nominal","scale":{"domain":["-9/-2","9/2"],"range":["#1a1a80","#30a0a0"]},"legend":null}
   }}
 ],
 "resolve":{"axis":{"x":"independent","y":"independent"},"scale":{"color":"independent"}}
},
{
 "width":237,"height":176,
 "title":{"text":"(c) 3/1-6/1 NAE f = 148 kHz","fontWeight":"normal","fontSize":16,"offset":1},
 "layer":[
  {"data":{"name":"C"},"mark":{"type":"line","strokeWidth":1.3,"interpolate":"monotone"},
   "encoding":{
    "x":{"field":"r","type":"quantitative","scale":{"domain":[0,1],"nice":false,"zero":false},"axis":{"orient":"bottom","values":[0,0.25,0.5,0.75,1],"labelExpr":"datum.value==1?'1.0':format(datum.value,'.2f')","labelAlign":{"condition":{"test":"datum.value==1","value":"right"},"value":"center"},"labelPadding":-3,"tickSize":5,"title":"r/a","titleFontSize":23,"titlePadding":6}},
    "y":{"field":"phi","type":"quantitative","scale":{"domain":[-7.08e-5,1.404e-4],"nice":false,"zero":false},"axis":{"orient":"left","values":[-0.00005,0,0.00005,0.0001],"labelExpr":"replace(format(datum.value,'.5f'),'−','-')","tickSize":4,"title":"Φ","titleAngle":0,"titleFontSize":27,"titleX":-70,"titleY":82,"titleAlign":"center","titleBaseline":"middle"}},
    "color":{"field":"s","type":"nominal","scale":{"domain":["g1","-3/-1","3/1","-5/-1","5/1","-4/-1","4/1","-6/-1","6/1"],"range":["#2a8a2a","#2a9090","#e03ed0","#1e1e8c","#e83030","#8a1c24","#2a2ad8","#c8c440","#111111"]},"legend":null}
   }},
  {"data":{"name":"C"},"mark":{"type":"line","opacity":0},
   "encoding":{
    "x":{"field":"r","type":"quantitative","scale":{"domain":[0,1],"nice":false,"zero":false},"axis":{"orient":"bottom","values":[0.125,0.375,0.625,0.875],"labels":false,"domain":false,"tickSize":3,"title":null}},
    "y":{"field":"phi","type":"quantitative","scale":{"domain":[-7.08e-5,1.404e-4],"nice":false,"zero":false},"axis":{"orient":"left","values":[-0.000025,0.000025,0.000075,0.000125],"labels":false,"domain":false,"tickSize":3,"title":null}},
    "detail":{"field":"s"}
   }},
  {"data":{"name":"LC"},"mark":{"type":"text","fontSize":17},
   "encoding":{
    "x":{"field":"r","type":"quantitative","scale":{"domain":[0,1],"nice":false,"zero":false},"axis":null},
    "y":{"field":"phi","type":"quantitative","scale":{"domain":[-7.08e-5,1.404e-4],"nice":false,"zero":false},"axis":null},
    "text":{"field":"t"},
    "color":{"field":"t","type":"nominal","scale":{"domain":["6/1","-6/-1","4/1","-4/-1","-3/-1","3/1","5/1","-5/-1"],"range":["#111111","#b8b830","#2a70d0","#8a5a1a","#2a8080","#d040c8","#e8302e","#6a4aa8"]},"legend":null}
   }}
 ],
 "resolve":{"axis":{"x":"independent","y":"independent"},"scale":{"color":"independent"}}
},
{
 "width":234,"height":176,
 "title":{"text":"(d)\u00a0 8/2-10/2 EAE f = 91 kHz","fontWeight":"normal","fontSize":16,"offset":1},
 "layer":[
  {"data":{"name":"D"},"mark":{"type":"line","strokeWidth":1.3,"interpolate":"monotone"},
   "encoding":{
    "x":{"field":"r","type":"quantitative","scale":{"domain":[0,0.3],"nice":false,"zero":false},"axis":{"orient":"bottom","values":[0,0.1,0.2,0.3],"format":".1f","labelPadding":-3,"tickSize":5,"title":"r/a","titleFontSize":23,"titlePadding":6}},
    "y":{"field":"phi","type":"quantitative","scale":{"domain":[-4.0e-6,2.001e-5],"nice":false,"zero":false},"axis":{"orient":"left","values":[0,1e-5,2e-5],"labelExpr":"datum.value==0?'0.0':(datum.value>1.5e-5?'2.0x10⁻⁵':'1.0x10⁻⁵')","tickSize":4,"title":null}},
    "color":{"field":"s","type":"nominal","scale":{"domain":["br","ol","rd","9/2","pu","-9/-2","-8/-2","8/2","10/2","-10/-2"],"range":["#5a1a1a","#a8a030","#e03030","#2aa0a0","#7a3ad8","#1a1a80","#f0a030","#e83de0","#2a9a3a","#2424c8"]},"legend":null}
   }},
  {"data":{"name":"D"},"mark":{"type":"line","opacity":0},
   "encoding":{
    "x":{"field":"r","type":"quantitative","scale":{"domain":[0,0.3],"nice":false,"zero":false},"axis":{"orient":"bottom","values":[0.05,0.15,0.25],"labels":false,"domain":false,"tickSize":3,"title":null}},
    "y":{"field":"phi","type":"quantitative","scale":{"domain":[-4.0e-6,2.001e-5],"nice":false,"zero":false},"axis":{"orient":"left","values":[5e-6,1.5e-5],"labels":false,"domain":false,"tickSize":3,"title":null}},
    "detail":{"field":"s"}
   }},
  {"data":{"name":"LD"},"mark":{"type":"text","fontSize":17},
   "encoding":{
    "x":{"field":"r","type":"quantitative","scale":{"domain":[0,0.3],"nice":false,"zero":false},"axis":null},
    "y":{"field":"phi","type":"quantitative","scale":{"domain":[-4.0e-6,2.001e-5],"nice":false,"zero":false},"axis":null},
    "text":{"field":"t"},
    "color":{"field":"t","type":"nominal","scale":{"domain":["-8/-2","-10/-2","8/2","10/2","-9/-2","9/2"],"range":["#f0a030","#3a60d0","#e040e0","#30a040","#1a1a70","#30a0a0"]},"legend":null}
   }}
 ],
 "resolve":{"axis":{"x":"independent","y":"independent"},"scale":{"color":"independent"}}
}
]
}
